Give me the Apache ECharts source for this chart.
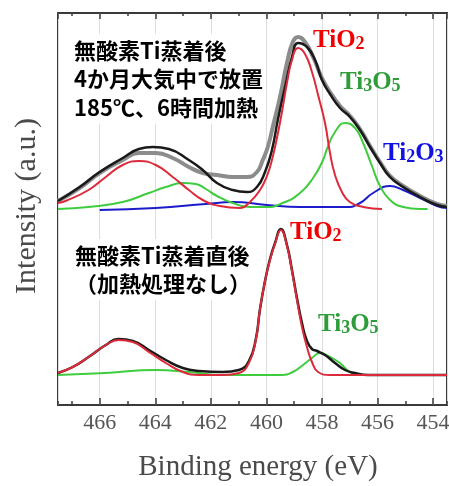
<!DOCTYPE html>
<html>
<head>
<meta charset="utf-8">
<script src="https://cdn.jsdelivr.net/npm/echarts@6/dist/echarts.min.js"></script>
<style>html,body{margin:0;padding:0;background:#fff}#c{width:449px;height:486px}</style>
</head>
<body>
<div id="c"></div>
<script>
// ---- data (binding energy eV, intensity a.u.) ----
const tickLabels = [466, 464, 462, 460, 458, 456, 454];

// upper spectrum: 185°C, 6h heated
const topDataE = [467.5, 466.72, 466.0, 465.17, 464.59, 463.98, 463.37, 462.79, 462.29, 461.78, 461.21, 460.70, 460.34, 460.13, 459.95, 459.77, 459.51, 459.26, 459.05, 458.86, 458.61, 458.32, 458.0, 457.71, 457.35, 456.99, 456.63, 456.27, 455.91, 455.55, 455.08, 454.47, 453.86, 453.5];
const topDataI = [204, 217, 232, 245, 252, 252, 247, 238, 232, 230, 228, 228, 233, 245, 258, 278, 308, 342, 363, 368, 363, 348, 327, 313, 299, 289, 276, 259, 243, 229, 219, 209, 201, 199];

const topSumE = [467.5, 466.72, 466.0, 465.17, 464.59, 464.09, 463.51, 462.79, 462.29, 461.78, 461.21, 460.70, 460.34, 460.05, 459.80, 459.59, 459.33, 459.08, 458.86, 458.54, 458.25, 458.0, 457.71, 457.35, 456.99, 456.63, 456.27, 455.91, 455.55, 455.08, 454.47, 453.86, 453.5];
const topSumI = [204, 218, 233, 247, 256, 258, 256, 245, 235, 222, 215, 213, 218, 233, 255, 285, 318, 348, 362, 358, 345, 325, 311, 297, 288, 275, 258, 242, 228, 218, 208, 200, 198];

const topTiO2E = [467.5, 467.23, 466.40, 465.78, 465.17, 464.59, 463.98, 463.37, 462.79, 462.29, 461.68, 460.95, 460.59, 460.23, 459.98, 459.80, 459.62, 459.44, 459.26, 459.08, 458.86, 458.61, 458.36, 458.14, 457.89, 457.71, 457.53, 457.28, 457.00, 456.52, 455.84];
const topTiO2I = [202, 204, 215, 228, 240, 244, 240, 228, 215, 205, 199, 197, 203, 215, 229, 245, 267, 293, 322, 345, 357, 351, 333, 310, 282, 252, 230, 213, 203, 198, 196];

const topTi3O5E = [467.5, 466.40, 465.17, 464.23, 463.62, 463.01, 462.54, 462.18, 461.78, 461.21, 460.59, 459.98, 459.41, 458.79, 458.32, 457.96, 457.82, 457.53, 457.17, 456.81, 456.52, 456.20, 455.91, 455.55, 455.08, 454.47, 454.20];
const topTi3O5I = [196, 198, 203, 212, 218, 222, 221, 216, 209, 202, 198, 198, 202, 212, 227, 245, 256, 273, 282, 277, 262, 239, 219, 205, 198, 196, 196];

const topTi2O3E = [466.0, 463.98, 462.18, 461.21, 459.98, 458.79, 457.71, 457.10, 456.63, 456.16, 455.55, 455.08, 454.47, 453.86, 453.5];
const topTi2O3I = [195, 197, 201, 203, 200, 198, 198, 198, 202, 212, 219, 215, 207, 199, 197];

// lower spectrum: as deposited (no heating)
const botSumE = [467.5, 466.97, 466.40, 465.78, 465.32, 464.81, 464.23, 463.62, 463.01, 462.43, 461.57, 460.99, 460.63, 460.38, 460.23, 460.05, 459.87, 459.69, 459.48, 459.26, 459.08, 458.90, 458.72, 458.54, 458.36, 458.18, 457.89, 457.53, 457.17, 456.81, 456.34, 453.5];
const botSumI = [32, 38, 48, 60, 66, 64, 55, 45, 37, 34, 33, 35, 44, 66, 96, 124, 146, 162, 176, 160, 135, 107, 82, 64, 56, 54, 50, 42, 35, 32, 30, 30];

const botTiO2E = [467.5, 466.97, 466.40, 465.78, 465.32, 464.81, 464.23, 463.62, 463.01, 462.43, 461.57, 460.99, 460.63, 460.38, 460.23, 460.05, 459.87, 459.69, 459.48, 459.26, 459.08, 458.90, 458.72, 458.54, 458.36, 458.14, 457.71, 453.5];
const botTiO2I = [32, 38, 48, 60, 65, 63, 53, 42, 33, 30, 30, 32, 42, 65, 96, 124, 145, 161, 175, 159, 134, 105, 78, 58, 43, 33, 30, 30];

const botTi3O5E = [467.5, 465.78, 463.98, 462.79, 461.57, 460.59, 459.41, 459.05, 458.68, 458.36, 458.07, 457.71, 457.35, 456.99, 456.52, 456.27];
const botTi3O5I = [30, 32, 35, 33, 30, 30, 30, 33, 40, 47, 52, 48, 42, 33, 30, 30];

// ---- chart ----
const pairs = (xs, ys) => xs.map((x, i) => [x, ys[i]]);
const chart = echarts.init(document.getElementById('c'), null, {renderer: 'canvas'});

const C_RED = '#dc2a3a', C_GREEN = '#3fcc3f', C_BLUE = '#1c1ccc', C_BLACK = '#1a1a1a', C_GRAY = '#8c8c8c';

function curve(name, xs, ys, color, width, z) {
  return {
    name, type: 'line', data: pairs(xs, ys), smooth: 0.5,
    showSymbol: false, symbol: 'none', silent: true, z: z,
    lineStyle: {color, width}, xAxisIndex: 0, yAxisIndex: 0
  };
}

const baseX = {
  type: 'value', min: 453.5, max: 467.5, inverse: true, gridIndex: 0,
  axisLine: {show: false, onZero: false}
};
const serif = 'Liberation Serif, Times New Roman, serif';
const cjk = 'Noto Sans CJK JP, sans-serif';

function subLabel(txt, x, y, color) {
  return {
    type: 'text', left: x, top: y, z: 100,
    style: {
      text: txt, fill: color,
      rich: {
        a: {fontSize: 25, fontFamily: serif, fontWeight: 'bold', fill: color, lineHeight: 25, verticalAlign: 'top', padding: [0, 0, 6, 0]},
        b: {fontSize: 18, fontFamily: serif, fontWeight: 'bold', fill: color, lineHeight: 18, verticalAlign: 'bottom'}
      }
    }
  };
}

chart.setOption({
  animation: false,
  grid: {left: 58, right: 2, top: 13, bottom: 81, containLabel: false, outerBoundsMode: 'none',
    show: true, borderColor: '#3a3a3a', borderWidth: 2, backgroundColor: 'transparent'},
  xAxis: [
    Object.assign({}, baseX, {
      position: 'bottom', splitNumber: 7,
      axisTick: {show: true, inside: true, length: 7, lineStyle: {color: '#3a3a3a', width: 1.5}},
      axisLabel: {show: true, showMinLabel: false, showMaxLabel: false, margin: 7,
        fontFamily: serif, fontSize: 22, color: '#555',
        formatter: v => (tickLabels.indexOf(Math.round(v * 100) / 100) >= 0 ? String(v) : '')},
      splitLine: {show: true, lineStyle: {color: '#dedede', width: 1}}
    }),
    Object.assign({}, baseX, {
      position: 'bottom', splitNumber: 14,
      axisTick: {show: true, inside: true, length: 4, lineStyle: {color: '#3a3a3a', width: 1.5}},
      axisLabel: {show: false}, splitLine: {show: false}
    }),
    Object.assign({}, baseX, {
      position: 'top', splitNumber: 7,
      axisTick: {show: true, inside: true, length: 6, lineStyle: {color: '#3a3a3a', width: 1.5}},
      axisLabel: {show: false}, splitLine: {show: false}
    }),
    Object.assign({}, baseX, {
      position: 'top', splitNumber: 14,
      axisTick: {show: true, inside: true, length: 3, lineStyle: {color: '#3a3a3a', width: 1.5}},
      axisLabel: {show: false}, splitLine: {show: false}
    })
  ],
  yAxis: [{
    type: 'value', min: 0, max: 392,
    axisLine: {show: false}, axisTick: {show: false}, axisLabel: {show: false}, splitLine: {show: false}
  }],
  series: [
    curve('topData', topDataE, topDataI, C_GRAY, 4, 2),
    curve('topTi2O3', topTi2O3E, topTi2O3I, C_BLUE, 2, 3),
    curve('topTi3O5', topTi3O5E, topTi3O5I, C_GREEN, 2, 4),
    curve('topSum', topSumE, topSumI, C_BLACK, 2.5, 5),
    curve('topTiO2', topTiO2E, topTiO2I, C_RED, 2, 6),
    curve('botTi3O5', botTi3O5E, botTi3O5I, C_GREEN, 2, 4),
    curve('botSum', botSumE, botSumI, C_BLACK, 2.5, 5),
    curve('botTiO2', botTiO2E, botTiO2I, C_RED, 2, 6)
  ],
  graphic: [
    {type: 'text', left: 71, top: 34, z: 90,
      style: {text: '無酸素Ti蒸着後\n4か月大気中で放置\n185℃、6時間加熱', fill: '#000',
        fontSize: 22, fontWeight: 'bold', fontFamily: cjk,
        lineHeight: 28.5, backgroundColor: '#fff', padding: [2, 3]}},
    {type: 'text', left: 72, top: 239, z: 90,
      style: {text: '無酸素Ti蒸着直後\n（加熱処理なし）', fill: '#000',
        fontSize: 22, fontWeight: 'bold', fontFamily: cjk,
        lineHeight: 28.5, backgroundColor: '#fff', padding: [2, 3]}},
    subLabel('{a|TiO}{b|2}', 313, 28, '#f00000'),
    subLabel('{a|Ti}{b|3}{a|O}{b|5}', 340, 70, '#2f9c3a'),
    subLabel('{a|Ti}{b|2}{a|O}{b|3}', 383, 141, '#1212e0'),
    subLabel('{a|TiO}{b|2}', 290, 220, '#f00000'),
    subLabel('{a|Ti}{b|3}{a|O}{b|5}', 318, 312, '#2f9c3a'),
    {type: 'text', x: 258, y: 467, z: 90,
      style: {text: 'Binding energy (eV)', fill: '#4a4a4a', fontFamily: serif, fontSize: 29,
        textAlign: 'center', textVerticalAlign: 'middle'}},
    {type: 'text', x: 27, y: 206, rotation: Math.PI / 2, z: 90,
      style: {text: 'Intensity (a.u.)', fill: '#4a4a4a', fontFamily: serif, fontSize: 30,
        textAlign: 'center', textVerticalAlign: 'middle'}}
  ]
});
</script>
</body>
</html>
